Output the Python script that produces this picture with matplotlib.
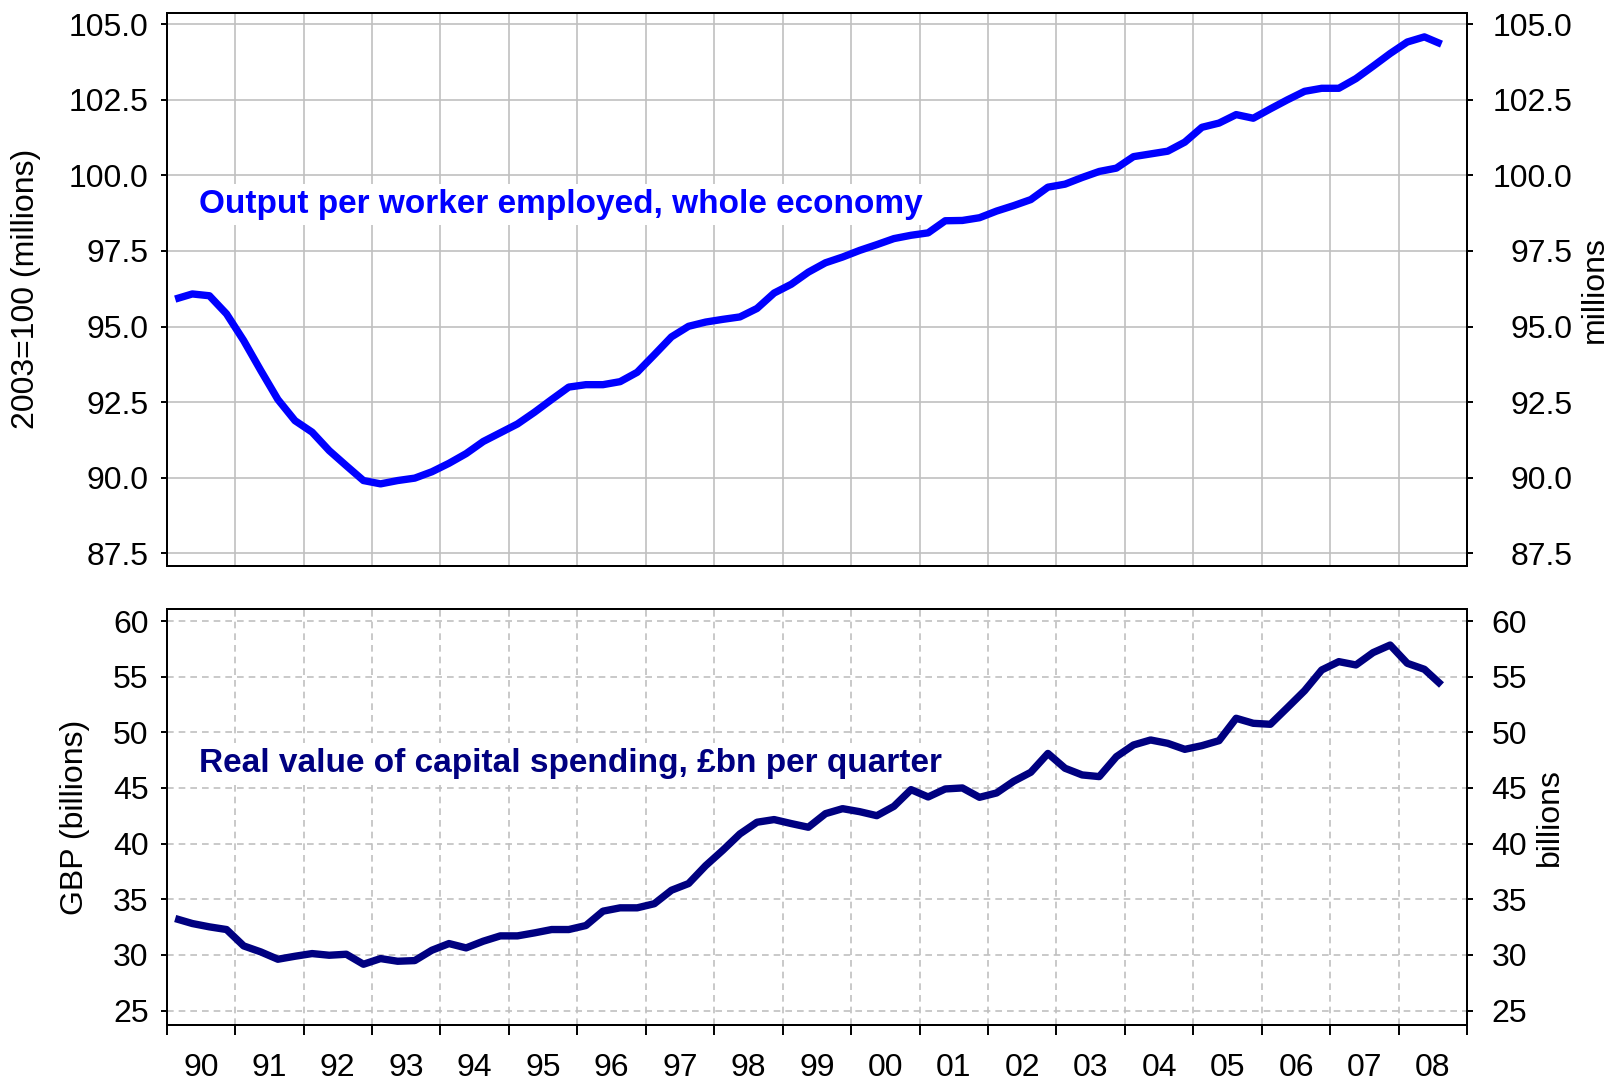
import numpy as np
import matplotlib
matplotlib.use('Agg')
import matplotlib.pyplot as plt

plt.rcParams['font.family'] = ['Liberation Sans', 'DejaVu Sans']

# quarterly data, 1990 Q1 - 2008 Q3
start_year = 1990
n_quarters = 75

output_per_worker = [
    95.91, 96.08, 96.02, 95.42,
    94.54, 93.55, 92.59, 91.89,
    91.51, 90.90, 90.40, 89.91,
    89.80, 89.91, 89.99, 90.20,
    90.48, 90.80, 91.20, 91.49,
    91.78, 92.17, 92.59, 93.00,
    93.08, 93.08, 93.18, 93.49,
    94.07, 94.66, 95.01, 95.15,
    95.24, 95.32, 95.60, 96.11,
    96.40, 96.80, 97.11, 97.30,
    97.52, 97.71, 97.91, 98.02,
    98.10, 98.50, 98.51, 98.60,
    98.82, 99.00, 99.20, 99.61,
    99.71, 99.93, 100.13, 100.24,
    100.62, 100.71, 100.80, 101.10,
    101.59, 101.73, 102.01, 101.89,
    102.20, 102.50, 102.78, 102.88,
    102.88, 103.20, 103.61, 104.03,
    104.41, 104.58, 104.34,
]

capital_spending = [
    33.27, 32.82, 32.52, 32.28,
    30.81, 30.27, 29.61, 29.88,
    30.12, 29.97, 30.06, 29.16,
    29.67, 29.43, 29.49, 30.42,
    31.02, 30.63, 31.23, 31.71,
    31.71, 31.98, 32.28, 32.28,
    32.64, 33.93, 34.23, 34.23,
    34.60, 35.81, 36.41, 38.02,
    39.40, 40.87, 41.92, 42.16,
    41.80, 41.47, 42.69, 43.14,
    42.87, 42.51, 43.35, 44.85,
    44.19, 44.91, 45.00, 44.16,
    44.55, 45.60, 46.41, 48.10,
    46.77, 46.17, 46.02, 47.81,
    48.86, 49.31, 49.01, 48.47,
    48.80, 49.25, 51.26, 50.81,
    50.72, 52.22, 53.74, 55.60,
    56.35, 56.05, 57.16, 57.84,
    56.20, 55.66, 54.25,
]

year_labels = ['90', '91', '92', '93', '94', '95', '96', '97', '98', '99',
               '00', '01', '02', '03', '04', '05', '06', '07', '08']

top_ticks = [87.5, 90.0, 92.5, 95.0, 97.5, 100.0, 102.5, 105.0]
bot_ticks = [25, 30, 35, 40, 45, 50, 55, 60]

t = start_year + 0.125 + 0.25 * np.arange(n_quarters)
year_edges = np.arange(1990, 2010)
year_mids = np.arange(1990, 2009) + 0.5

fig = plt.figure(figsize=(16.21, 10.84), dpi=100)
ax1 = fig.add_axes([0.1028, 0.4783, 0.8023, 0.51])
ax2 = fig.add_axes([0.1028, 0.0544, 0.8023, 0.3835])

fs = 23
grid_c = '#c0c0c0'

# ---- top panel ----
ax1.plot(t, output_per_worker, color='#0000ff', lw=5.3, solid_capstyle='butt', zorder=2)
ax1.set_xlim(1990, 2009)
ax1.set_ylim(87.1, 105.38)
ax1.set_xticks(year_edges)
ax1.set_xticklabels([])
ax1.tick_params(axis='x', length=0)
ax1.set_yticks(top_ticks, ['%.1f' % v for v in top_ticks])
ax1.tick_params(axis='y', direction='out', length=4, width=1.4, labelsize=fs, pad=9)
ax1.grid(True, color=grid_c, lw=1.2, ls='-', zorder=0)
ax1.set_axisbelow(True)
ax1.set_ylabel('2003=100 (millions)', fontsize=23)
ax1.yaxis.set_label_coords(-0.0966, 0.5)
ax1.text(1990.47, 98.76, 'Output per worker employed, whole economy',
         color='#0000ff', fontsize=24, fontweight='bold', va='baseline', zorder=3,
         bbox=dict(boxstyle='square,pad=0.15', fc='white', ec='none'))

ax1r = ax1.twinx()
ax1r.set_ylim(ax1.get_ylim())
ax1r.set_yticks(top_ticks, ['%.1f' % v for v in top_ticks], ha='right')
ax1r.tick_params(axis='y', direction='out', length=4, width=1.4, labelsize=fs, pad=72)
ax1r.set_ylabel('millions', fontsize=23)
ax1r.yaxis.set_label_coords(1.0866, 0.5)

# ---- bottom panel ----
ax2.plot(t, capital_spending, color='#000080', lw=5.3, solid_capstyle='butt', zorder=2)
ax2.set_xlim(1990, 2009)
ax2.set_ylim(23.7, 61.05)
ax2.set_xticks(year_edges)
ax2.set_xticklabels([])
ax2.set_xticks(year_mids, minor=True)
ax2.set_xticklabels(year_labels, minor=True)
ax2.tick_params(axis='x', which='major', direction='out', length=7, width=1.4)
ax2.tick_params(axis='x', which='minor', length=0, labelsize=fs, pad=20)
ax2.set_yticks(bot_ticks)
ax2.tick_params(axis='y', direction='out', length=4, width=1.4, labelsize=fs, pad=9)
ax2.grid(True, which='major', color=grid_c, lw=1.2, ls=(0, (4, 3)), zorder=0)
ax2.set_axisbelow(True)
ax2.set_ylabel('GBP (billions)', fontsize=23)
ax2.yaxis.set_label_coords(-0.059, 0.5)
ax2.text(1990.47, 46.46, 'Real value of capital spending, \u00a3bn per quarter',
         color='#000080', fontsize=24, fontweight='bold', va='baseline', zorder=3,
         bbox=dict(boxstyle='square,pad=0.15', fc='white', ec='none'))

ax2r = ax2.twinx()
ax2r.set_ylim(ax2.get_ylim())
ax2r.set_yticks(bot_ticks, [str(v) for v in bot_ticks], ha='right')
ax2r.tick_params(axis='y', direction='out', length=4, width=1.4, labelsize=fs, pad=39)
ax2r.set_ylabel('billions', fontsize=23)
ax2r.yaxis.set_label_coords(1.0521, 0.5)

for a in (ax1, ax1r, ax2, ax2r):
    for s in a.spines.values():
        s.set_linewidth(1.4)

fig.savefig('out.png', dpi=100)
